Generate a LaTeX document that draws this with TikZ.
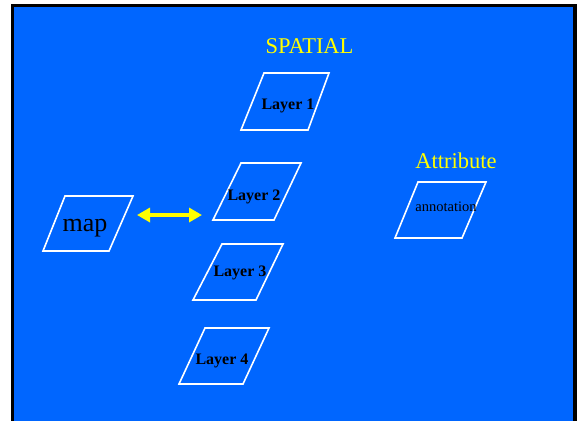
\documentclass[tikz,border=0pt]{standalone}
\usepackage{fontspec}
\setmainfont{Liberation Serif}
\usetikzlibrary{arrows.meta}
\definecolor{slideblue}{HTML}{0066FF}
\definecolor{hiyellow}{HTML}{FFFF00}
\tikzset{
  sheet/.style={draw=white, line width=1.6pt},
  layertext/.style={font=\bfseries\fontsize{16}{18}\selectfont, text=black},
  heading/.style={font=\fontsize{22.5}{26}\selectfont, text=hiyellow},
}
\begin{document}
\begin{tikzpicture}[x=1pt,y=-1pt]
\useasboundingbox (0,0) rectangle (577,421);
% slide background with its dark frame
\fill[white] (0,0) rectangle (577,421);
\fill[black] (11,4) rectangle (577,421);
\fill[slideblue] (14,7) rectangle (573,421);

% headings
\node[heading] (spatial) at (309.5,46.5) {SPATIAL};
\node[heading] (attr) at (456,161) {Attribute};

% parallelogram sheets
\draw[sheet] (264,73) -- (329,73) -- (308,130) -- (241,130) -- cycle;
\node[layertext] (l1) at (288,106) {Layer 1};
\draw[sheet] (241,163) -- (301,163) -- (274,220) -- (213,220) -- cycle;
\node[layertext] (l2) at (254,197) {Layer 2};
\draw[sheet] (222,244) -- (283,244) -- (256,300) -- (193,300) -- cycle;
\node[layertext] (l3) at (240,272.5) {Layer 3};
\draw[sheet] (205,328) -- (269,328) -- (243,384) -- (179,384) -- cycle;
\node[layertext] (l4) at (222,360.5) {Layer 4};

\draw[sheet] (65,196) -- (133,196) -- (109,251) -- (43,251) -- cycle;
\node[font=\fontsize{26}{30}\selectfont] (map) at (85,228) {map};

\draw[sheet] (418,182) -- (486,182) -- (462,238) -- (395,238) -- cycle;
\node[font=\fontsize{14.5}{17}\selectfont] (ann) at (446,207) {annotation};

% double-headed link between map and the layers
\coordinate (aL) at (137,215);
\coordinate (aR) at (202,215);
\draw[hiyellow, line width=4pt, {Triangle[length=13pt,width=14pt]}-{Triangle[length=13pt,width=14pt]}] (aL) -- (aR);
\end{tikzpicture}
\end{document}
